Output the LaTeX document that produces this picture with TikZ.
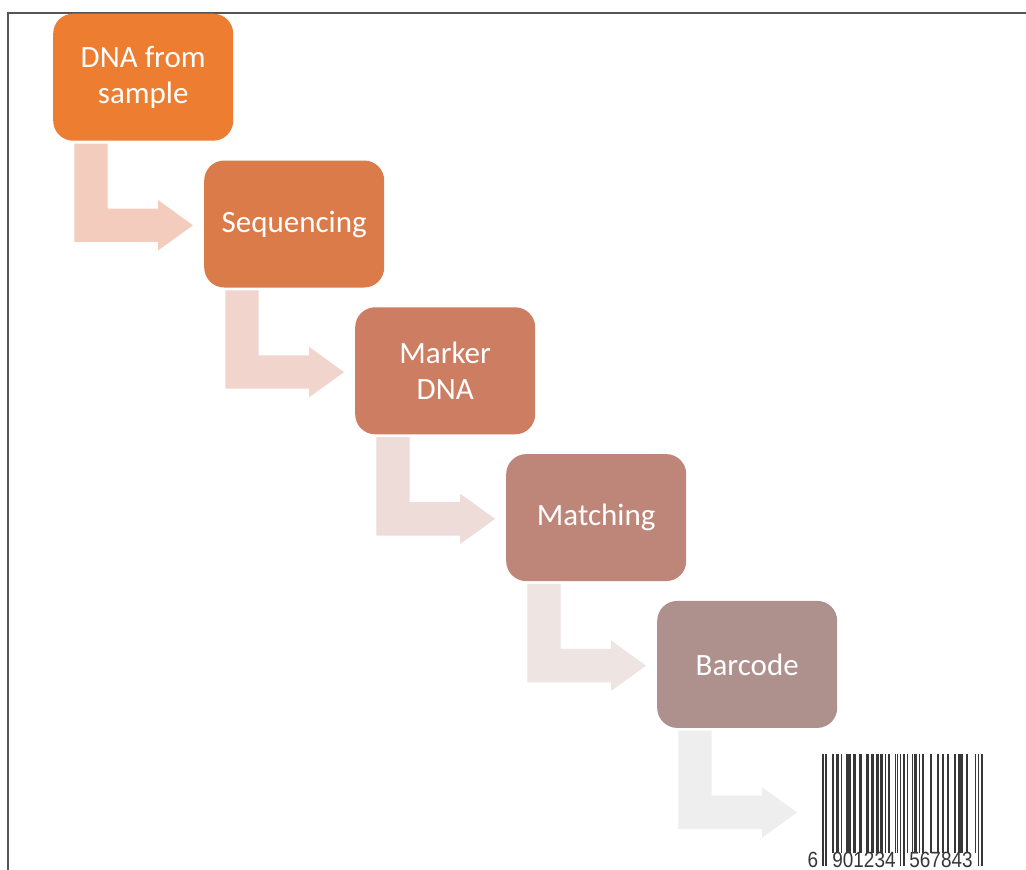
\documentclass[tikz,border=0pt]{standalone}
\usepackage{fontspec}
\setmainfont{Carlito}
\newfontfamily\bcfont{Liberation Sans}
\usetikzlibrary{calc}
\definecolor{boxA}{RGB}{237,125,49}
\definecolor{boxB}{RGB}{220,123,74}
\definecolor{boxC}{RGB}{204,125,98}
\definecolor{boxD}{RGB}{189,134,121}
\definecolor{boxE}{RGB}{174,144,140}
\definecolor{arrA}{RGB}{244,204,190}
\definecolor{arrB}{RGB}{241,212,204}
\definecolor{arrC}{RGB}{238,220,217}
\definecolor{arrD}{RGB}{238,228,226}
\definecolor{arrE}{RGB}{238,238,238}
\definecolor{framec}{RGB}{85,85,85}
\definecolor{barc}{RGB}{55,55,55}
\tikzset{
  stepbox/.style={rectangle, rounded corners=20pt, minimum width=180pt, minimum height=127pt,
    inner sep=0pt, text=white, align=center, anchor=north west,
    font=\fontsize{31}{36}\selectfont},
  bendarrow/.style={fill=#1, draw=none},
  digits/.style={anchor=base, inner sep=0pt, text=barc, xscale=0.86,
    font=\bcfont\fontsize{22}{22}\selectfont}
}
\newcommand{\bendarr}[2]{%
  \fill[bendarrow=#2]
    ($(#1.north west)+(21.3,130)$) -- ($(#1.north west)+(54.7,130)$) --
    ($(#1.north west)+(54.7,195)$) -- ($(#1.north west)+(105,195)$) --
    ($(#1.north west)+(105,186.5)$) -- ($(#1.north west)+(140,211.8)$) --
    ($(#1.north west)+(105,237)$) -- ($(#1.north west)+(105,228.4)$) --
    ($(#1.north west)+(21.3,228.4)$) -- cycle;}
\begin{document}
\begin{tikzpicture}[x=1pt,y=-1pt]
\useasboundingbox (0,0) rectangle (1026,870);
\fill[white] (0,0) rectangle (1026,870);
\draw[framec, line width=2pt] (7.5,871) -- (7.5,12.5) -- (1027,12.5);

\node[stepbox, fill=boxA] (b1) at (53,13.5) {DNA from\\sample};
\node[stepbox, fill=boxB] (b2) at (204,160.3) {Sequencing};
\node[stepbox, fill=boxC] (b3) at (355,307.1) {Marker\\DNA};
\node[stepbox, fill=boxD] (b4) at (506,453.9) {Matching};
\node[stepbox, fill=boxE] (b5) at (657,600.7) {Barcode};

\bendarr{b1}{arrA}
\bendarr{b2}{arrB}
\bendarr{b3}{arrC}
\bendarr{b4}{arrD}
\bendarr{b5}{arrE}

% barcode
\coordinate (bc) at (822,754);
\foreach \b [count=\i from 0] in {2,0,2,
  0,0,0,1,0,1,1, 0,1,0,0,1,1,1, 0,1,1,0,0,1,1, 0,0,1,1,0,1,1, 0,1,1,1,1,0,1, 0,1,0,0,0,1,1,
  0,2,0,2,0,
  1,0,0,1,1,1,0, 1,0,1,0,0,0,0, 1,0,0,0,1,0,0, 1,0,0,1,0,0,0, 1,0,1,1,1,0,0, 1,0,0,0,0,1,0,
  2,0,2}{
  \ifnum\b=1 \fill[barc] ($(bc)+(\i*1.695,0)$) rectangle ++(1.5,99); \fi
  \ifnum\b=2 \fill[barc] ($(bc)+(\i*1.695,0)$) rectangle ++(1.5,112); \fi
}
\node[digits] (d0) at (813,867) {6};
\node[digits] (d1) at (864,867) {901234};
\node[digits] (d2) at (941,867) {567843};
\end{tikzpicture}
\end{document}
